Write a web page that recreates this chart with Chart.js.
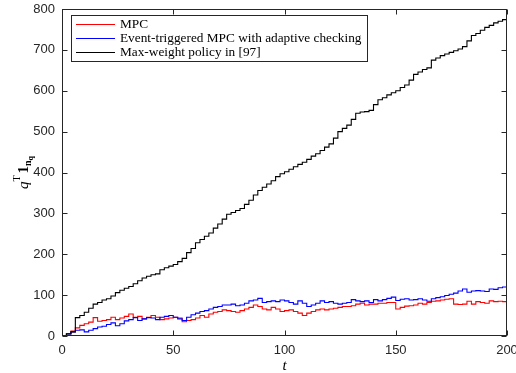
<!DOCTYPE html>
<html>
<head>
<meta charset="utf-8">
<script src="https://cdn.jsdelivr.net/npm/chart.js@4.4.0/dist/chart.umd.min.js"></script>
<style>
html,body{margin:0;padding:0;background:#fff;}
canvas{display:block;}
</style>
</head>
<body>
<canvas id="c" width="516" height="373"></canvas>
<script>
// ---- data ----
const T = [];
for (let i = 0; i <= 100; i++) T.push(i * 2); // t = 0,2,...,200

const seriesLabels = ["MPC", "Event-triggered MPC with adaptive checking", "Max-weight policy in [97]"];

const mpc = [0,6,12,20,26,30,34,45,36,38,40,46,40,44,48,54,46,48,42,46,
  50,46,40,42,44,46,44,35,38,40,44,50,46,54,58,60,64,62,60,58,
  62,66,70,76,72,66,64,70,66,60,62,64,60,56,50,56,60,64,66,64,
  66,68,70,72,72,74,78,80,76,78,78,80,80,82,82,66,70,73,74,76,
  80,78,82,85,86,88,90,91,78,77,78,85,78,84,82,80,86,84,85,84,85];

const eventMpc = [0,5,10,14,15,10,14,18,22,24,28,32,25,30,37,40,45,38,42,45,
  44,40,46,48,50,46,42,38,46,52,56,60,62,66,70,72,76,76,78,74,
  76,80,86,88,92,82,84,86,84,88,86,82,78,86,80,72,76,80,86,82,
  84,80,78,80,82,89,86,84,86,82,89,86,89,92,95,87,90,91,88,89,
  91,88,85,91,94,96,99,102,105,110,115,107,110,111,110,109,115,114,118,120,123];

const maxWeight = [0,5,10,45,50,58,68,78,82,88,91,98,106,112,117,121,128,135,142,146,
  150,152,162,167,171,175,182,190,204,214,228,236,244,252,264,274,286,298,302,307,
  312,322,332,345,356,364,372,380,390,397,402,408,414,420,425,432,440,446,454,462,
  470,484,500,508,516,530,545,548,549,552,566,578,583,590,595,600,608,614,626,640,
  646,652,656,675,680,686,690,694,698,702,708,722,735,740,748,755,760,766,770,774,778];

const xTicks = [0, 50, 100, 150, 200];
const yTicks = [0, 100, 200, 300, 400, 500, 600, 700, 800];

const colors = ["#ff0000", "#0000ff", "#000000"];

function pts(vals) { return vals.map((v, i) => ({ x: T[i], y: v })); }

const AXIS = "#262626";

const boxPlugin = {
  id: "boxPlugin",
  afterDatasetsDraw(chart) {
    const ctx = chart.ctx, a = chart.chartArea;
    const xs = chart.scales.x, ys = chart.scales.y;
    ctx.save();
    ctx.strokeStyle = AXIS;
    ctx.lineWidth = 1;
    const L = Math.round(a.left) + 0.5, R = Math.round(a.right) - 0.5;
    const Tp = Math.round(a.top) + 0.5, B = Math.round(a.bottom) - 0.5;
    ctx.strokeRect(L, Tp, R - L, B - Tp);
    const tl = 5;
    ctx.beginPath();
    xTicks.forEach(v => {
      const px = Math.round(xs.getPixelForValue(v)) + 0.5;
      ctx.moveTo(px, B); ctx.lineTo(px, B - tl);
      ctx.moveTo(px, Tp); ctx.lineTo(px, Tp + tl);
    });
    yTicks.forEach(v => {
      const py = Math.round(ys.getPixelForValue(v)) + 0.5;
      ctx.moveTo(L, py); ctx.lineTo(L + tl, py);
      ctx.moveTo(R, py); ctx.lineTo(R - tl, py);
    });
    ctx.stroke();

    // legend
    const lx = 71.5, ly = 15.5, lw = 296, lh = 46;
    ctx.fillStyle = "#ffffff";
    ctx.fillRect(lx, ly, lw, lh);
    ctx.strokeStyle = AXIS;
    ctx.strokeRect(lx, ly, lw, lh);
    ctx.font = "13.3px 'Liberation Serif', 'Times New Roman', serif";
    ctx.textBaseline = "middle";
    ctx.textAlign = "left";
    seriesLabels.forEach((lab, i) => {
      const y = 24 + i * 14.2;
      ctx.strokeStyle = colors[i];
      ctx.beginPath();
      ctx.moveTo(76, Math.round(y) + 0.5);
      ctx.lineTo(115, Math.round(y) + 0.5);
      ctx.stroke();
      ctx.fillStyle = "#000";
      ctx.fillText(lab, 120, y + 0.5);
    });

    // x axis title
    ctx.fillStyle = "#000";
    ctx.font = "italic 15px 'Liberation Serif', serif";
    ctx.textAlign = "center";
    ctx.textBaseline = "alphabetic";
    ctx.fillText("t", (a.left + a.right) / 2, 370);

    // y axis title: q^T 1_{n_q}
    ctx.save();
    ctx.translate(28, (a.top + a.bottom) / 2);
    ctx.rotate(-Math.PI / 2);
    ctx.textAlign = "left";
    ctx.textBaseline = "alphabetic";
    const parts = [
      { t: "q", f: "italic 15px 'Liberation Serif', serif", dy: 0 },
      { t: "T", f: "10px 'Liberation Serif', serif", dy: -8 },
      { t: "1", f: "bold 15px 'Liberation Serif', serif", dy: 0, pre: 2 },
      { t: "n", f: "bold 10px 'Liberation Serif', serif", dy: 3 },
      { t: "q", f: "bold 8px 'Liberation Serif', serif", dy: 5 }
    ];
    let w = 0;
    parts.forEach(p => { ctx.font = p.f; w += ctx.measureText(p.t).width + (p.pre || 0); });
    let x = -w / 2;
    parts.forEach(p => {
      ctx.font = p.f;
      x += (p.pre || 0);
      ctx.fillText(p.t, x, p.dy);
      x += ctx.measureText(p.t).width;
    });
    ctx.restore();
    ctx.restore();
  }
};

new Chart(document.getElementById("c"), {
  type: "line",
  data: {
    datasets: [
      { label: seriesLabels[0], data: pts(mpc), borderColor: colors[0], order: 3 },
      { label: seriesLabels[1], data: pts(eventMpc), borderColor: colors[1], order: 2 },
      { label: seriesLabels[2], data: pts(maxWeight), borderColor: colors[2], order: 1 }
    ]
  },
  options: {
    responsive: false,
    animation: false,
    devicePixelRatio: 1,
    layout: { padding: { top: 9, right: 9, left: 0, bottom: 0 } },
    elements: {
      line: { stepped: "before", borderWidth: 1.1, tension: 0, fill: false },
      point: { radius: 0 }
    },
    plugins: { legend: { display: false }, tooltip: { enabled: false } },
    scales: {
      x: {
        type: "linear", min: 0, max: 200,
        grid: { display: false, drawTicks: false },
        border: { display: false },
        afterBuildTicks: s => { s.ticks = xTicks.map(v => ({ value: v })); },
        afterFit: s => { s.height = 37; s.paddingLeft = 0; s.paddingRight = 0; },
        ticks: { color: AXIS, font: { family: "'Liberation Sans', Arial, sans-serif", size: 13 }, padding: 7, maxRotation: 0 }
      },
      y: {
        type: "linear", min: 0, max: 800,
        grid: { display: false, drawTicks: false },
        border: { display: false },
        afterBuildTicks: s => { s.ticks = yTicks.map(v => ({ value: v })); },
        afterFit: s => { s.width = 62; s.paddingTop = 0; s.paddingBottom = 0; },
        ticks: { color: AXIS, font: { family: "'Liberation Sans', Arial, sans-serif", size: 13 }, padding: 7 }
      }
    }
  },
  plugins: [boxPlugin]
});
</script>
</body>
</html>
